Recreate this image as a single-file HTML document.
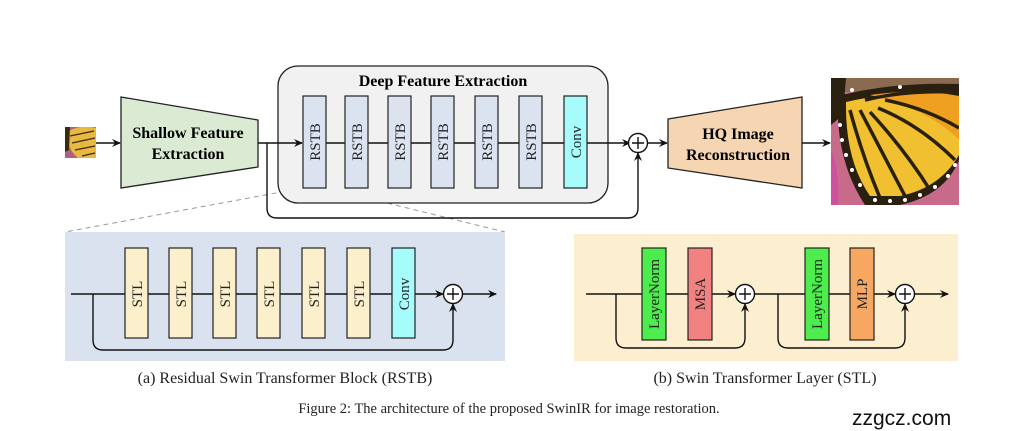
<!DOCTYPE html>
<html><head><meta charset="utf-8"><style>
html,body{margin:0;padding:0;background:#fff;}
svg{display:block;}
text{font-family:"Liberation Serif",serif;}
</style></head><body>
<svg width="1011" height="431" viewBox="0 0 1011 431" xmlns="http://www.w3.org/2000/svg">
<defs>
<marker id="ar" markerWidth="10" markerHeight="10" refX="8" refY="5" orient="auto" markerUnits="userSpaceOnUse">
<path d="M0,1 L9,5 L0,9 L3,5 Z" fill="#111"/>
</marker>
<clipPath id="cp1"><rect x="831" y="78" width="128" height="127"/></clipPath>
<clipPath id="cp2"><rect x="65" y="127" width="31" height="31"/></clipPath>
</defs>

<!-- input image -->
<g clip-path="url(#cp2)">
<rect x="65" y="127" width="31" height="31" fill="#b0607a"/>
<path d="M67,132 Q80,124 96,128 L96,158 L78,158 Q66,148 67,132 Z" fill="#e8b840"/>
<path d="M70,136 L94,131 M72,143 L95,138 M75,150 L95,146 M82,156 L95,153" stroke="#3a2a10" stroke-width="1.3"/>
<path d="M65,127 L70,127 L69,150 L65,152 Z" fill="#3a2a10"/>
</g>
<line x1="96" y1="143" x2="120" y2="143" stroke="#111" stroke-width="1.6" marker-end="url(#ar)"/>

<!-- shallow -->
<polygon points="121,97 258,120 258,167 121,188" fill="#dbebd3" stroke="#222" stroke-width="1.3"/>
<text x="188" y="138" font-size="16" font-weight="bold" text-anchor="middle">Shallow Feature</text>
<text x="188" y="159" font-size="16" font-weight="bold" text-anchor="middle">Extraction</text>

<!-- dashed zoom lines -->
<line x1="303" y1="188" x2="65" y2="232" stroke="#999" stroke-width="1" stroke-dasharray="5,4"/>
<line x1="326" y1="188" x2="505" y2="232" stroke="#999" stroke-width="1" stroke-dasharray="5,4"/>

<!-- deep box -->
<rect x="278" y="66" width="330" height="137" rx="20" fill="#f1f1f1" stroke="#222" stroke-width="1.3"/>
<text x="443" y="86" font-size="16" font-weight="bold" text-anchor="middle">Deep Feature Extraction</text>

<line x1="258" y1="143" x2="302" y2="143" stroke="#111" stroke-width="1.6" marker-end="url(#ar)"/>
<line x1="326" y1="143" x2="630" y2="143" stroke="#111" stroke-width="1.4" marker-end="url(#ar)"/>
<g stroke="#222" stroke-width="1.2" fill="#dbe3f1">
<rect x="303" y="96" width="23" height="92"/>
<rect x="345" y="96" width="23" height="92"/>
<rect x="388" y="96" width="23" height="92"/>
<rect x="431" y="96" width="23" height="92"/>
<rect x="475" y="96" width="23" height="92"/>
<rect x="519" y="96" width="23" height="92"/>
<rect x="564" y="96" width="23" height="92" fill="#a6fbfb"/>
</g>
<g font-size="15" text-anchor="middle" fill="#222">
<text transform="translate(320,142) rotate(-90)">RSTB</text>
<text transform="translate(362,142) rotate(-90)">RSTB</text>
<text transform="translate(405,142) rotate(-90)">RSTB</text>
<text transform="translate(448,142) rotate(-90)">RSTB</text>
<text transform="translate(492,142) rotate(-90)">RSTB</text>
<text transform="translate(536,142) rotate(-90)">RSTB</text>
<text transform="translate(581,142) rotate(-90)">Conv</text>
</g>
<!-- skip -->
<path d="M267,143 L267,208 Q267,218 277,218 L628,218 Q638,218 638,208 L638,153" fill="none" stroke="#111" stroke-width="1.4" marker-end="url(#ar)"/>
<circle cx="638" cy="143" r="9.5" fill="#fff" stroke="#111" stroke-width="1.4"/>
<path d="M632,143 H644 M638,137 V149" stroke="#111" stroke-width="1.4"/>
<line x1="648" y1="143" x2="667" y2="143" stroke="#111" stroke-width="1.4" marker-end="url(#ar)"/>

<!-- HQ -->
<polygon points="668,119 802,97 802,188 668,168" fill="#f6d6b2" stroke="#222" stroke-width="1.3"/>
<text x="738" y="139" font-size="16" font-weight="bold" text-anchor="middle">HQ Image</text>
<text x="738" y="160" font-size="16" font-weight="bold" text-anchor="middle">Reconstruction</text>
<line x1="802" y1="143" x2="830" y2="143" stroke="#111" stroke-width="1.4" marker-end="url(#ar)"/>

<!-- output image -->
<g clip-path="url(#cp1)">
<rect x="831" y="78" width="128" height="127" fill="#c86a8a"/>
<rect x="831" y="78" width="128" height="14" fill="#8a6a50"/>
<path d="M838,96 Q890,82 959,84 L959,160 Q945,195 900,205 L865,205 Q835,160 838,96 Z" fill="#2a2010"/>
<path d="M846,102 Q895,90 959,96 L959,155 Q940,188 900,196 L870,196 Q845,160 846,102 Z" fill="#f0c030"/>
<path d="M870,95 Q920,88 959,96 L959,140 Q930,110 870,95 Z" fill="#f0a020"/>
<g stroke="#2a2010" stroke-width="3.5" fill="none">
<path d="M850,110 Q862,155 880,198"/>
<path d="M860,110 Q882,152 905,196"/>
<path d="M870,112 Q905,150 930,190"/>
<path d="M878,108 Q920,125 955,160"/>
<path d="M885,100 Q925,108 959,128"/>
<path d="M865,100 Q905,90 959,92"/>
</g>
<g fill="#fff">
<circle cx="841" cy="110" r="2"/><circle cx="840" cy="125" r="2"/><circle cx="842" cy="140" r="2"/>
<circle cx="846" cy="155" r="2"/><circle cx="852" cy="170" r="2"/><circle cx="860" cy="185" r="2"/>
<circle cx="875" cy="200" r="2"/><circle cx="890" cy="201" r="2"/><circle cx="905" cy="200" r="2"/>
<circle cx="920" cy="195" r="2"/><circle cx="935" cy="187" r="2"/><circle cx="948" cy="176" r="2"/>
<circle cx="955" cy="165" r="2"/><circle cx="852" cy="90" r="2"/><circle cx="900" cy="87" r="2"/>
</g>
<path d="M831,78 L846,78 L843,115 L831,125 Z" fill="#2a2010"/>
<path d="M831,150 Q840,170 838,205 L831,205 Z" fill="#d050a0"/>
</g>

<!-- RSTB panel -->
<rect x="65" y="232" width="440" height="129" fill="#dae2ef"/>
<line x1="71" y1="294" x2="443" y2="294" stroke="#111" stroke-width="1.4" marker-end="url(#ar)"/>
<g stroke="#222" stroke-width="1.2" fill="#fcefcc">
<rect x="125" y="248" width="23" height="90"/>
<rect x="169" y="248" width="23" height="90"/>
<rect x="213" y="248" width="23" height="90"/>
<rect x="257" y="248" width="23" height="90"/>
<rect x="302" y="248" width="23" height="90"/>
<rect x="347" y="248" width="23" height="90"/>
<rect x="392" y="248" width="23" height="90" fill="#a6fbfb"/>
</g>
<g font-size="15" text-anchor="middle" fill="#222">
<text transform="translate(142,294) rotate(-90)">STL</text>
<text transform="translate(186,294) rotate(-90)">STL</text>
<text transform="translate(230,294) rotate(-90)">STL</text>
<text transform="translate(274,294) rotate(-90)">STL</text>
<text transform="translate(319,294) rotate(-90)">STL</text>
<text transform="translate(364,294) rotate(-90)">STL</text>
<text transform="translate(409,294) rotate(-90)">Conv</text>
</g>
<path d="M93,294 L93,340 Q93,350 103,350 L443,350 Q453,350 453,340 L453,304" fill="none" stroke="#111" stroke-width="1.4" marker-end="url(#ar)"/>
<circle cx="453" cy="294" r="9.5" fill="#fff" stroke="#111" stroke-width="1.4"/>
<path d="M447,294 H459 M453,288 V300" stroke="#111" stroke-width="1.4"/>
<line x1="463" y1="294" x2="496" y2="294" stroke="#111" stroke-width="1.4" marker-end="url(#ar)"/>
<text x="285" y="383" font-size="16" text-anchor="middle" fill="#222">(a) Residual Swin Transformer Block (RSTB)</text>

<!-- STL panel -->
<rect x="574" y="234" width="384" height="127" fill="#fcefd0"/>
<line x1="586" y1="294" x2="735" y2="294" stroke="#111" stroke-width="1.4" marker-end="url(#ar)"/>
<line x1="755" y1="294" x2="895" y2="294" stroke="#111" stroke-width="1.4" marker-end="url(#ar)"/>
<line x1="915" y1="294" x2="948" y2="294" stroke="#111" stroke-width="1.4" marker-end="url(#ar)"/>
<g stroke="#222" stroke-width="1.2">
<rect x="642" y="248" width="24" height="92" fill="#4ced4c"/>
<rect x="688" y="248" width="24" height="92" fill="#f28282"/>
<rect x="805" y="248" width="24" height="92" fill="#4ced4c"/>
<rect x="850" y="248" width="24" height="92" fill="#f6a862"/>
</g>
<g font-size="15" text-anchor="middle" fill="#222">
<text transform="translate(659,294) rotate(-90)">LayerNorm</text>
<text transform="translate(705,294) rotate(-90)">MSA</text>
<text transform="translate(822,294) rotate(-90)">LayerNorm</text>
<text transform="translate(867,294) rotate(-90)">MLP</text>
</g>
<path d="M616,294 L616,338 Q616,348 626,348 L735,348 Q745,348 745,338 L745,304" fill="none" stroke="#111" stroke-width="1.4" marker-end="url(#ar)"/>
<path d="M778,294 L778,338 Q778,348 788,348 L895,348 Q905,348 905,338 L905,304" fill="none" stroke="#111" stroke-width="1.4" marker-end="url(#ar)"/>
<circle cx="745" cy="294" r="9.5" fill="#fff" stroke="#111" stroke-width="1.4"/>
<path d="M739,294 H751 M745,288 V300" stroke="#111" stroke-width="1.4"/>
<circle cx="905" cy="294" r="9.5" fill="#fff" stroke="#111" stroke-width="1.4"/>
<path d="M899,294 H911 M905,288 V300" stroke="#111" stroke-width="1.4"/>
<text x="765" y="383" font-size="16" text-anchor="middle" fill="#222">(b) Swin Transformer Layer (STL)</text>

<text x="509" y="413" font-size="14.5" text-anchor="middle" fill="#222">Figure 2: The architecture of the proposed SwinIR for image restoration.</text>
<text x="852" y="425" font-size="21" fill="#111" style="font-family:'Liberation Sans',sans-serif">zzgcz.com</text>
</svg>
</body></html>
